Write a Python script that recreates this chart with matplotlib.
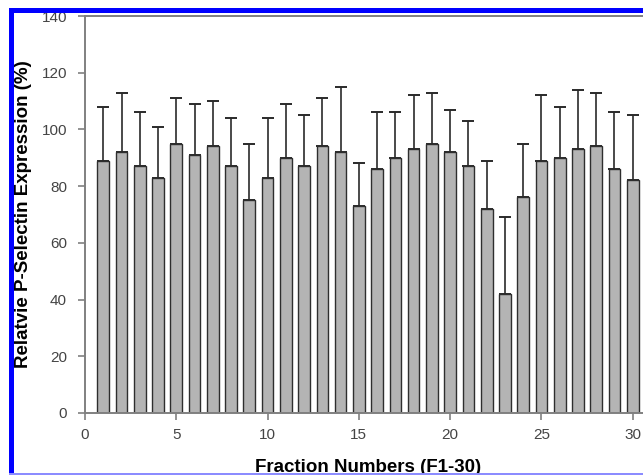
import matplotlib
matplotlib.use("Agg")
import matplotlib.pyplot as plt
from matplotlib.patches import Rectangle

# fraction numbers F1-F30
fractions = list(range(1, 31))
# mean relative expression (%) per fraction
expression = [89, 92, 87, 83, 95, 91, 94, 87, 75, 83,
              90, 87, 94, 92, 73, 86, 90, 93, 95, 92,
              87, 72, 42, 76, 89, 90, 93, 94, 86, 82]
# upper error (SD) per fraction
error_up = [19, 21, 19, 18, 16, 18, 16, 17, 20, 21,
            19, 18, 17, 23, 15, 20, 16, 19, 18, 15,
            16, 17, 27, 19, 23, 18, 21, 19, 20, 23]

x_ticks = [0, 5, 10, 15, 20, 25, 30]
y_ticks = [0, 20, 40, 60, 80, 100, 120, 140]

plt.rcParams["font.family"] = ["Liberation Sans", "DejaVu Sans"]

W, H = 643, 475
fig = plt.figure(figsize=(W / 100, H / 100), dpi=100)
fig.patch.set_facecolor("white")

# axes box in pixels: left 85, right 651 (past the crop), top 16, bottom 413
ax = fig.add_axes([85 / W, (H - 413) / H, 566 / W, 397 / H])

zeros = [0] * len(error_up)
ax.bar(fractions, expression, width=0.64, color="#b4b4b4",
       edgecolor="#2e2e2e", linewidth=1.0, zorder=2,
       yerr=[zeros, error_up],
       error_kw=dict(ecolor="#2a2a2a", elinewidth=1.2, capsize=4,
                     capthick=1.4, zorder=1))

ax.set_xlim(0, 31)
ax.set_ylim(0, 140)
ax.set_xticks(x_ticks)
ax.set_yticks(y_ticks)

for s in ax.spines.values():
    s.set_color("#808080")
    s.set_linewidth(1.4)

ax.tick_params(axis="both", direction="out", length=5, width=1.2,
               color="#808080", labelsize=11, labelcolor="#444444")
ax.tick_params(axis="y", pad=8)
ax.tick_params(axis="x", pad=6)

ax.set_ylabel("Relatvie P-Selectin Expression (%)", fontsize=13.5,
              fontweight="bold")
ax.yaxis.set_label_coords(-0.093, 0.5)
ax.set_xlabel("Fraction Numbers (F1-30)", fontsize=13.5, fontweight="bold")
ax.xaxis.set_label_coords(0.5, -0.117)
ax.xaxis.label.set_va("top")

# cropped frame around the figure
def px_rect(x0, y0, x1, y1, color):
    fig.add_artist(Rectangle((x0 / W, 1 - y1 / H), (x1 - x0) / W,
                             (y1 - y0) / H, transform=fig.transFigure,
                             facecolor=color, edgecolor="none", zorder=20))

px_rect(0, 0, 9, H, "white")
px_rect(0, 0, W, 7.5, "white")
px_rect(9, 7.5, 13.5, H, "#0000ff")
px_rect(9, 7.5, W, 13, "#0000ff")
px_rect(9, 473, W, H, "#8c8cff")

fig.savefig("out.png", dpi=100)
